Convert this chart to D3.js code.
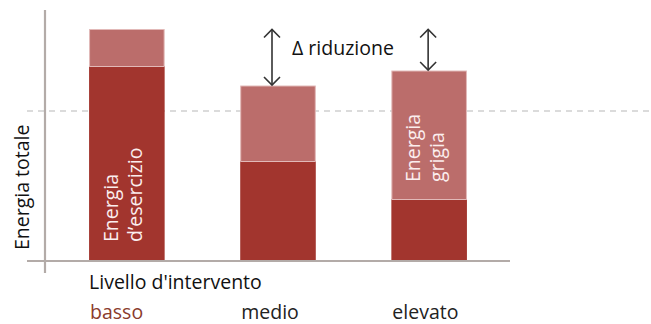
<!DOCTYPE html>
<html>
<head>
<meta charset="utf-8">
<script src="https://cdn.jsdelivr.net/npm/d3@7"></script>
<style>
  html, body { margin: 0; padding: 0; background: #fff; }
  svg { display: block; font-family: "Open Sans", "Noto Sans", sans-serif; font-weight: 400; }
</style>
</head>
<body>
<svg id="chart" width="651" height="324"></svg>
<script>
// Intervention levels and the two energy components (relative units)
const categories = ["basso", "medio", "elevato"];
const operatingEnergy = [77.6, 39.6, 24.4];   // Energia d'esercizio
const greyEnergy = [14.8, 30.2, 51.4];        // Energia grigia
const referenceLevel = 59.6;                  // dashed reference line
const categoryColors = ["#8a3b2c", "#222", "#222"];

const svg = d3.select("#chart");
const fontSize = 19.5;

const x = d3.scaleBand().domain(categories).range([13.5, 542.5]).paddingInner(0.5).paddingOuter(0.5);
const y = d3.scaleLinear().domain([0, 100]).range([260, 10]);

const darkRed = "#a2352e";
const lightRed = "#bb6d6b";

// dashed reference line
svg.append("line")
  .attr("x1", 27).attr("x2", 651)
  .attr("y1", y(referenceLevel)).attr("y2", y(referenceLevel))
  .attr("stroke", "#cfcfcf").attr("stroke-width", 1.3)
  .attr("stroke-dasharray", "6,5");

const totals = categories.map((c, i) => operatingEnergy[i] + greyEnergy[i]);

// operating energy segments
svg.append("g").selectAll("rect")
  .data(categories)
  .join("rect")
  .attr("x", d => x(d))
  .attr("width", x.bandwidth())
  .attr("y", (d, i) => y(operatingEnergy[i]))
  .attr("height", (d, i) => y(0) - y(operatingEnergy[i]))
  .attr("fill", darkRed);

// grey energy segments
svg.append("g").selectAll("rect")
  .data(categories)
  .join("rect")
  .attr("x", d => x(d) + 0.5)
  .attr("width", x.bandwidth() - 1)
  .attr("y", (d, i) => y(totals[i]) + 0.5)
  .attr("height", (d, i) => y(operatingEnergy[i]) - y(totals[i]))
  .attr("fill", lightRed)
  .attr("stroke", "#e2b9b8")
  .attr("stroke-width", 1);

// axes
svg.append("line")
  .attr("x1", 27).attr("x2", 510)
  .attr("y1", y(0) + 1).attr("y2", y(0) + 1)
  .attr("stroke", "#b3aba8").attr("stroke-width", 2.2);
svg.append("line")
  .attr("x1", 45).attr("x2", 45)
  .attr("y1", 10).attr("y2", 273)
  .attr("stroke", "#b3aba8").attr("stroke-width", 2.2);

// y-axis title
svg.append("text")
  .attr("transform", `translate(29, 250) rotate(-90)`)
  .attr("font-size", fontSize).attr("fill", "#111")
  .text("Energia totale");

// x-axis title and category labels
svg.append("text")
  .attr("x", x("basso")).attr("y", 289)
  .attr("font-size", fontSize).attr("fill", "#111")
  .text("Livello d'intervento");

svg.append("g").selectAll("text")
  .data(categories)
  .join("text")
  .attr("x", d => x(d) + 1)
  .attr("y", 319)
  .attr("font-size", fontSize)
  .attr("fill", (d, i) => categoryColors[i])
  .text(d => d);

// reduction arrows from the "basso" total to the other totals
const arrowColor = "#333";
const arrowOffset = { medio: -6, elevato: -1 };
const arrows = svg.append("g").attr("stroke", arrowColor).attr("stroke-width", 1.6).attr("fill", "none");
categories.slice(1).forEach(c => {
  const i = categories.indexOf(c);
  const cx = x(c) + x.bandwidth() / 2 + arrowOffset[c];
  const y1 = y(totals[0]) + 0.5;
  const y2 = y(totals[i]) - 0.5;
  arrows.append("line").attr("x1", cx).attr("x2", cx).attr("y1", y1).attr("y2", y2);
  arrows.append("path").attr("d", `M${cx - 8},${y1 + 8} L${cx},${y1} L${cx + 8},${y1 + 8}`);
  arrows.append("path").attr("d", `M${cx - 8},${y2 - 8} L${cx},${y2} L${cx + 8},${y2 - 8}`);
});

svg.append("text")
  .attr("x", 292).attr("y", 55)
  .attr("font-size", fontSize).attr("fill", "#111")
  .text("Δ riduzione");

// in-bar labels (rotated, reading upwards)
function barLabel(cat, baseY, lines) {
  const cx = x(cat) + x.bandwidth() / 2;
  const g = svg.append("g")
    .attr("transform", `translate(${cx}, ${baseY}) rotate(-90)`);
  lines.forEach((t, i) => {
    g.append("text")
      .attr("x", 0)
      .attr("y", -9 + i * 24)
      .attr("font-size", fontSize)
      .attr("fill", "#fbeeee")
      .text(t);
  });
}
barLabel("basso", 242, ["Energia", "d\u2019esercizio"]);
barLabel("elevato", 182, ["Energia", "grigia"]);
</script>
</body>
</html>
